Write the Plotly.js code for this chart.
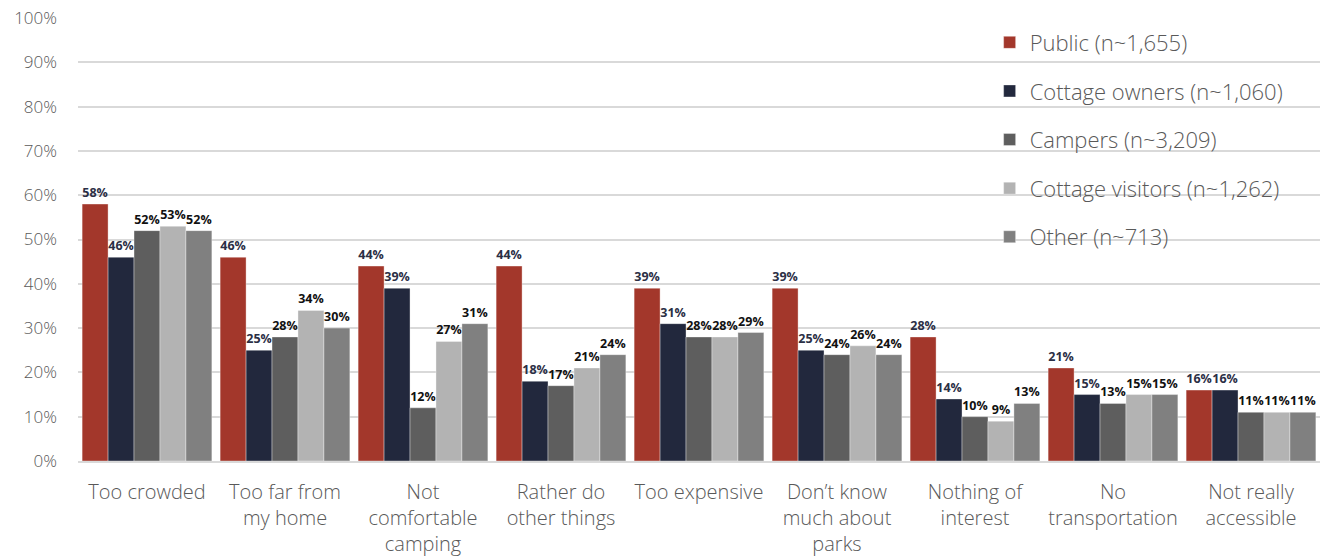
<!DOCTYPE html>
<html>
<head>
<meta charset="utf-8">
<script src="https://cdn.plot.ly/plotly-3.0.1.min.js"></script>
<style>html,body{margin:0;padding:0;background:#fff;}#chart{width:1323px;height:560px;}</style>
</head>
<body>
<div id="chart"></div>
<script>
const categories = ["Too crowded", "Too far from<br>my home", "Not<br>comfortable<br>camping", "Rather do<br>other things", "Too expensive", "Don’t know<br>much about<br>parks", "Nothing of<br>interest", "No<br>transportation", "Not really<br>accessible"];
const seriesNames = ["Public (n~1,655)", "Cottage owners (n~1,060)", "Campers (n~3,209)", "Cottage visitors (n~1,262)", "Other (n~713)"];
const publicVals = [58, 46, 44, 44, 39, 39, 28, 21, 16];
const cottageOwners = [46, 25, 39, 18, 31, 25, 14, 15, 16];
const campers = [52, 28, 12, 17, 28, 24, 10, 13, 11];
const cottageVisitors = [53, 34, 27, 21, 28, 26, 9, 15, 11];
const other = [52, 30, 31, 24, 29, 24, 13, 15, 11];
const yTicks = [0, 10, 20, 30, 40, 50, 60, 70, 80, 90, 100];

const values = [publicVals, cottageOwners, campers, cottageVisitors, other];
const colors = ["#A3372B", "#22283D", "#5E5E5E", "#B3B3B3", "#808080"];
const labelColors = ["#2B2F45", "#2B2F45", "#111111", "#111111", "#111111"];

const traces = values.map((v, i) => ({
  type: "bar",
  name: seriesNames[i],
  x: categories,
  y: v,
  legendgroup: "g" + i,
  marker: {color: colors[i], line: {color: "rgba(255,255,255,0.35)", width: 1}},
  text: v.map(n => n + "%"),
  textposition: "outside",
  cliponaxis: false,
  textfont: {family: "Open Sans, sans-serif", size: 12.5, color: labelColors[i], weight: 700},
  hoverinfo: "none"
}));

const layout = {
  width: 1323, height: 560,
  margin: {l: 78, r: 3, t: 18, b: 99},
  barmode: "group",
  bargap: 0.06,
  bargroupgap: 0,
  paper_bgcolor: "#fff",
  plot_bgcolor: "#fff",
  font: {family: "Open Sans, sans-serif", color: "#595959"},
  xaxis: {
    tickfont: {size: 20, color: "#595959", family: "Open Sans, sans-serif", weight: 300},
    showline: true, linecolor: "#d9d9d9", linewidth: 2,
    ticks: "", showgrid: false,
    ticklabelstandoff: 12
  },
  yaxis: {
    range: [0, 100],
    tickvals: yTicks,
    ticktext: yTicks.map(t => t + "%"),
    tickfont: {size: 17, color: "#595959", family: "Open Sans, sans-serif", weight: 300},
    gridcolor: "#d9d9d9", gridwidth: 2,
    zeroline: false, ticks: "", showline: false,
    ticklabelstandoff: 20
  },
  legend: {
    x: 0.734, y: 0.992, xanchor: "left", yanchor: "top",
    bgcolor: "rgba(0,0,0,0)",
    font: {size: 22, color: "#595959", family: "Open Sans, sans-serif", weight: 300},
    traceorder: "grouped",
    tracegroupgap: 17,
    itemwidth: 30
  },
  showlegend: true
};

Plotly.newPlot("chart", traces, layout, {staticPlot: true});
</script>
</body>
</html>
